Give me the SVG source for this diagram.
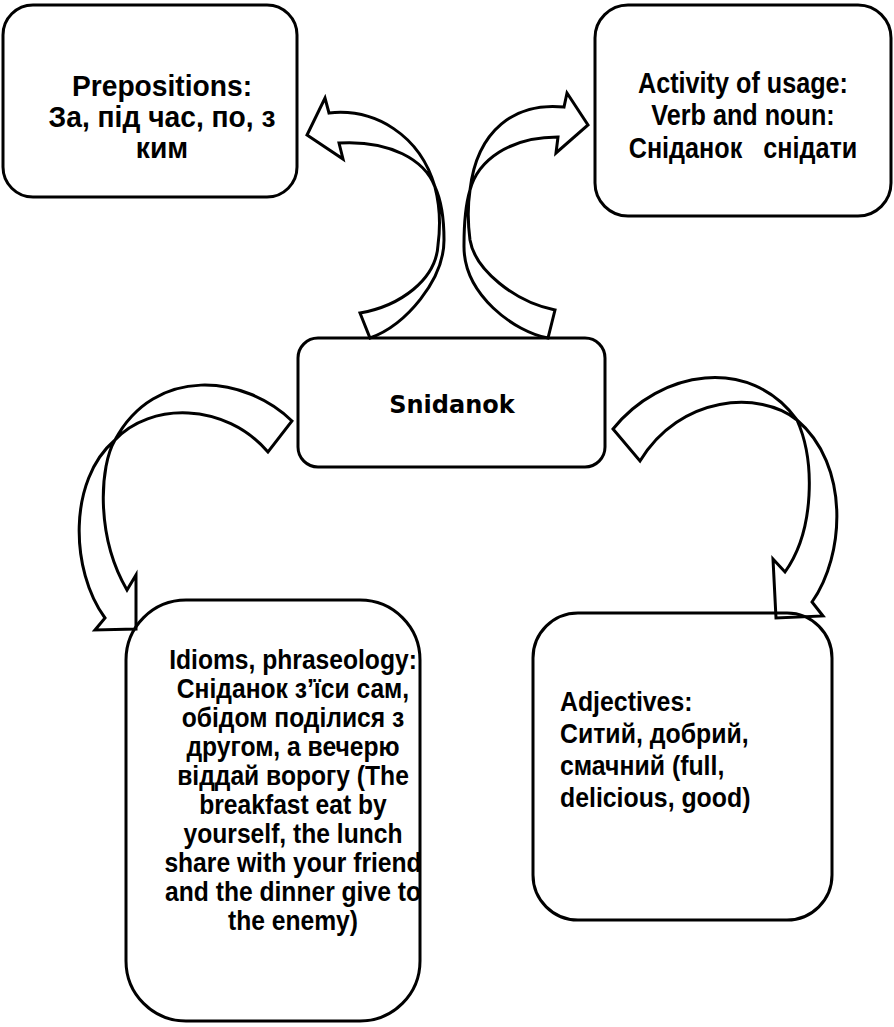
<svg xmlns="http://www.w3.org/2000/svg" width="894" height="1027" viewBox="0 0 894 1027">
<style>
.box{fill:none;stroke:#000;stroke-width:3}
.arrow{fill:#fff;stroke:#000;stroke-width:3;stroke-linejoin:miter}
.t{font-family:"Liberation Sans",Arial,"Noto Sans",sans-serif;font-weight:bold;fill:#000}
.c{text-anchor:middle}
.title{font-family:"DejaVu Sans",Verdana,sans-serif;font-weight:bold;font-size:24px;text-anchor:middle;fill:#000}
</style>
<rect width="894" height="1027" fill="#fff"/>
<g id="connectors">
<path class="arrow" d="M329,113 C375,108 420,135 435,187 C441,210 440,230 438,245 C436,280 400,306 360,313 L370,338 C406,325 444,280 444,240 C444,215 441,200 435,187 C425,160 390,140 339,143 L343,159 L307,135 L325,98 Z"/>
<path class="arrow" d="M564,107 C515,102 477,130 470,190 C467,210 468,225 470,240 C475,270 515,302 555,310 L548,338 C515,332 463,295 464,245 C464,215 467,200 470,190 C478,160 510,137 558,137 L556,153 L588,125 L567,93 Z"/>
<path class="arrow" d="M292,421 C245,375 155,365 115,440 C100,465 95,535 127,590 L136,575 L136,629 L95,630 L105,618 C70,570 68,480 115,440 C150,402 225,402 268,452 Z"/>
<path class="arrow" d="M613,429 C660,370 750,355 797,420 C815,460 815,530 785,572 L773,559 L776,618 L823,616 L812,602 C845,555 850,465 797,420 C760,390 680,395 640,461 Z"/>
</g>
<g id="node-prepositions">
<rect class="box" x="3" y="5" width="294" height="192" rx="30"/>
<g transform="translate(162,0) scale(0.94,1)">
<text class="t c" font-size="30" x="0" y="96">Prepositions:</text>
<text class="t c" font-size="30" x="0" y="127">За, під час, по, з</text>
<text class="t c" font-size="30" x="0" y="158">ким</text>
</g>
</g>
<g id="node-activity">
<rect class="box" x="595" y="5" width="296" height="211" rx="33"/>
<g transform="translate(743,0) scale(0.84,1)">
<text class="t c" font-size="30" x="0" y="93">Activity of usage:</text>
<text class="t c" font-size="30" x="0" y="125">Verb and noun:</text>
<text class="t c" font-size="30" x="0" y="158" style="white-space:pre">Сніданок   снідати</text>
</g>
</g>
<g id="node-snidanok">
<rect class="box" x="298" y="338" width="307" height="129" rx="20"/>
<text class="title" x="452" y="413">Snidanok</text>
</g>
<g id="node-idioms">
<rect class="box" x="126" y="600" width="294" height="421" rx="60"/>
<g transform="translate(293,0) scale(0.88,1)">
<text class="t c" font-size="28" x="0" y="669">Idioms, phraseology:</text>
<text class="t c" font-size="28" x="0" y="698">Сніданок з’їси сам,</text>
<text class="t c" font-size="28" x="0" y="727">обідом поділися з</text>
<text class="t c" font-size="28" x="0" y="756">другом, а вечерю</text>
<text class="t c" font-size="28" x="0" y="785">віддай ворогу (The</text>
<text class="t c" font-size="28" x="0" y="814">breakfast eat by</text>
<text class="t c" font-size="28" x="0" y="843">yourself, the lunch</text>
<text class="t c" font-size="28" x="0" y="872">share with your friend</text>
<text class="t c" font-size="28" x="0" y="901">and the dinner give to</text>
<text class="t c" font-size="28" x="0" y="930">the enemy)</text>
</g>
</g>
<g id="node-adjectives">
<rect class="box" x="533" y="613" width="299" height="307" rx="45"/>
<g transform="translate(560,0) scale(0.92,1)">
<text class="t" font-size="27" x="0" y="711">Adjectives:</text>
<text class="t" font-size="27" x="0" y="743">Ситий, добрий,</text>
<text class="t" font-size="27" x="0" y="775">смачний (full,</text>
<text class="t" font-size="27" x="0" y="807">delicious, good)</text>
</g>
</g>
</svg>
